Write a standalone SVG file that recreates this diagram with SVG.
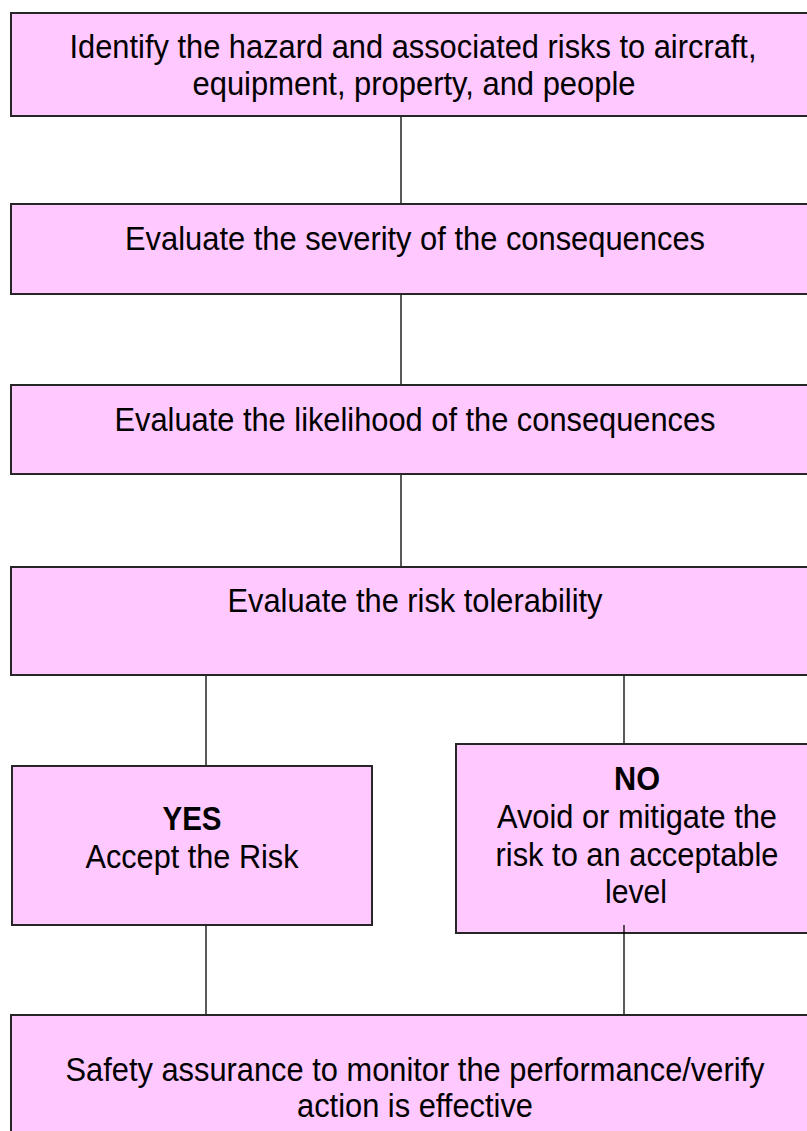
<svg xmlns="http://www.w3.org/2000/svg" width="807" height="1131" viewBox="0 0 807 1131">
  <style>
    .box { fill: #FFC8FE; stroke: #262626; stroke-width: 2; }
    .lbl { font-family: "Liberation Sans", Arial, sans-serif; font-size: 33px; fill: #000; text-anchor: middle; }
    .bold { font-weight: bold; }
    .wire { stroke: #000; stroke-width: 1.3; fill: none; }
  </style>
  <rect width="807" height="1131" fill="#fff"/>

  <g id="identify">
    <rect class="box" x="11" y="13" width="799" height="103"/>
    <text class="lbl" x="413" y="58" textLength="687" lengthAdjust="spacingAndGlyphs">Identify the hazard and associated risks to aircraft,</text>
    <text class="lbl" x="414" y="95" textLength="443" lengthAdjust="spacingAndGlyphs">equipment, property, and people</text>
  </g>

  <g id="severity">
    <rect class="box" x="11" y="204" width="799" height="90"/>
    <text class="lbl" x="415" y="250" textLength="580" lengthAdjust="spacingAndGlyphs">Evaluate the severity of the consequences</text>
  </g>

  <g id="likelihood">
    <rect class="box" x="11" y="385" width="799" height="89"/>
    <text class="lbl" x="415" y="431" textLength="601" lengthAdjust="spacingAndGlyphs">Evaluate the likelihood of the consequences</text>
  </g>

  <g id="tolerability">
    <rect class="box" x="11" y="567" width="799" height="108"/>
    <text class="lbl" x="415" y="612" textLength="375" lengthAdjust="spacingAndGlyphs">Evaluate the risk tolerability</text>
  </g>

  <g id="accept">
    <rect class="box" x="12" y="766" width="360" height="159"/>
    <text class="lbl bold" x="192" y="830" textLength="59" lengthAdjust="spacingAndGlyphs">YES</text>
    <text class="lbl" x="192" y="868" textLength="213" lengthAdjust="spacingAndGlyphs">Accept the Risk</text>
  </g>

  <g id="mitigate">
    <rect class="box" x="456" y="744" width="354" height="189"/>
    <text class="lbl bold" x="637" y="790" textLength="46" lengthAdjust="spacingAndGlyphs">NO</text>
    <text class="lbl" x="637" y="828" textLength="280" lengthAdjust="spacingAndGlyphs">Avoid or mitigate the</text>
    <text class="lbl" x="637" y="866" textLength="283" lengthAdjust="spacingAndGlyphs">risk to an acceptable</text>
    <text class="lbl" x="636" y="903" textLength="62" lengthAdjust="spacingAndGlyphs">level</text>
  </g>

  <g id="assurance">
    <rect class="box" x="11" y="1015" width="799" height="118"/>
    <text class="lbl" x="415" y="1081" textLength="699" lengthAdjust="spacingAndGlyphs">Safety assurance to monitor the performance/verify</text>
    <text class="lbl" x="415" y="1117" textLength="236" lengthAdjust="spacingAndGlyphs">action is effective</text>
  </g>

  <!-- plain vertical links; the NO-branch drop starts inside its box -->
  <g id="connectors">
    <line class="wire" x1="401" y1="117" x2="401" y2="203"/>
    <line class="wire" x1="401" y1="295" x2="401" y2="384"/>
    <line class="wire" x1="401" y1="475" x2="401" y2="566"/>
    <line class="wire" x1="206" y1="676" x2="206" y2="765"/>
    <line class="wire" x1="624" y1="676" x2="624" y2="743"/>
    <line class="wire" x1="206" y1="926" x2="206" y2="1014"/>
    <line class="wire" x1="624" y1="925" x2="624" y2="1014"/>
  </g>
</svg>
